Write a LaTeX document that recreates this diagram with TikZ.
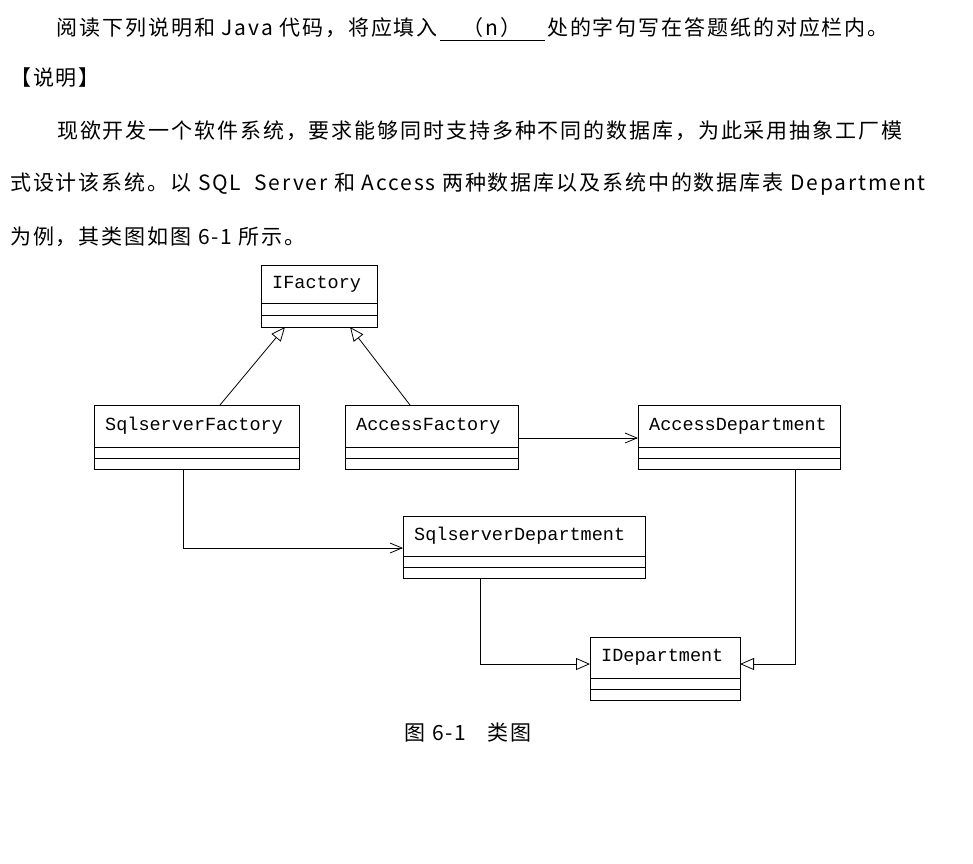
\documentclass[tikz,border=0pt]{standalone}
\usepackage{fontspec}
\newfontfamily\cjk[LetterSpace=9]{Noto Sans CJK SC}
\newfontfamily\mono{Liberation Mono}
\usetikzlibrary{arrows.meta}
\begin{document}
\begin{tikzpicture}[x=1pt,y=-1pt,
  txt/.style={anchor=west,inner sep=0pt,font=\cjk\fontsize{21}{24}\selectfont},
  lbl/.style={anchor=west,inner sep=0pt,font=\mono\fontsize{18.5}{20}\selectfont},
  box/.style={draw,line width=0.9pt},
  inh/.style={-{Triangle[open,length=14pt,width=12pt]},line width=0.8pt},
  dep/.style={-{Straight Barb[length=12pt,width=10pt]},line width=0.8pt}]
\useasboundingbox (0,0) rectangle (973,863);
\node[txt,anchor=east] (t1) at (438,28) {阅读下列说明和 Java 代码，将应填入};
\node[txt,anchor=center] (n) at (492,28) {（n）};
\node[txt] (t1b) at (547,28) {处的字句写在答题纸的对应栏内。};
\coordinate (u1) at (440,40); \coordinate (u2) at (545,40);
\draw[line width=1pt] (u1) -- (u2);
\node[txt] (t2) at (10,78) {【说明】};
\node[txt] (t3) at (57,131) {现欲开发一个软件系统，要求能够同时支持多种不同的数据库，为此采用抽象工厂模};
\node[txt] (t4) at (10,184) {式设计该系统。以 SQL\ \ Server 和 Access 两种数据库以及系统中的数据库表 Department};
\node[txt] (t5) at (10,237) {为例，其类图如图 6-1 所示。};
\node[txt,anchor=center] (cap) at (468,733) {图 6-1\hspace{1em}类图};
% boxes
\newcommand\umlbox[8]{%
  \draw[box] (#2,#3) rectangle (#4,#5);
  \draw[box] (#2,#6) -- (#4,#6);
  \draw[box] (#2,#7) -- (#4,#7);
  \coordinate (#1nw) at (#2,#3);
  \node[lbl] (#1) at (#2+11,{(#3+#6)/2}) {#8};}
\umlbox{IF}{261}{265}{377}{327}{303}{315}{IFactory}
\umlbox{SF}{94}{405}{299}{469}{447}{458}{SqlserverFactory}
\umlbox{AF}{345}{405}{518}{469}{447}{458}{AccessFactory}
\umlbox{AD}{638}{405}{840}{469}{447}{458}{AccessDepartment}
\umlbox{SD}{403}{516}{645}{578}{556}{567}{SqlserverDepartment}
\umlbox{ID}{590}{637}{740}{700}{678}{689}{IDepartment}
\coordinate (a1) at (220,405); \coordinate (a2) at (285,327);
\coordinate (b1) at (410,405); \coordinate (b2) at (350,327);
\draw[inh] (a1) -- (a2);
\draw[inh] (b1) -- (b2);
\coordinate (c1) at (518,438); \coordinate (c2) at (638,438);
\draw[dep] (c1) -- (c2);
\coordinate (d1) at (183,469); \coordinate (d2) at (403,548);
\draw[dep] (d1) |- (d2);
\coordinate (e1) at (480,578); \coordinate (e2) at (590,664);
\draw[inh] (e1) |- (e2);
\coordinate (f1) at (795,469); \coordinate (f2) at (740,664);
\draw[inh] (f1) |- (f2);
\end{tikzpicture}
\end{document}
